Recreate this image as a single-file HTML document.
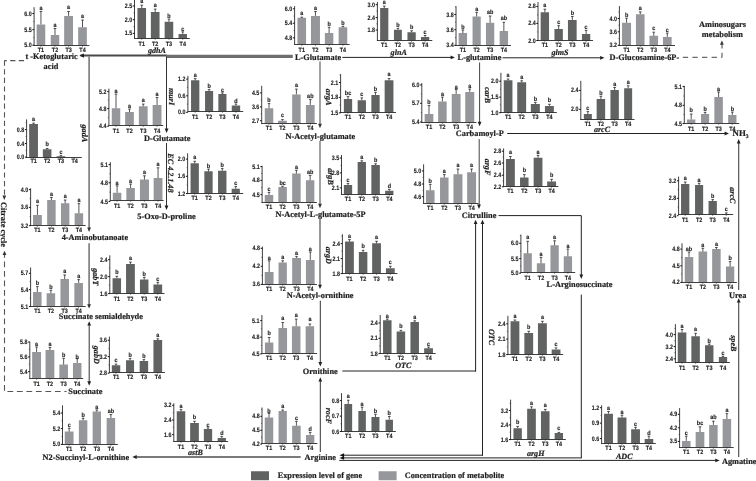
<!DOCTYPE html>
<html><head><meta charset="utf-8"><title>Metabolic pathway</title>
<style>html,body{margin:0;padding:0;background:#fff;}body{width:756px;height:481px;overflow:hidden;}svg{display:block;will-change:transform;filter:blur(0.35px);} text{text-rendering:geometricPrecision;}text{fill:#1e1e1e;}.k,.t,.l{font-family:"Liberation Sans",sans-serif;font-weight:bold;stroke:#1e1e1e;stroke-width:0.15px;}.k{font-size:6.5px;}.t{font-size:6.3px;}.l{font-size:6.2px;}.m{font-family:"Liberation Serif",serif;font-weight:bold;font-size:8.3px;stroke:#1e1e1e;stroke-width:0.2px;}.g{font-family:"Liberation Serif",serif;font-weight:bold;font-style:italic;font-size:8.1px;stroke:#1e1e1e;stroke-width:0.2px;}</style>
</head><body>
<svg width="756" height="481" viewBox="0 0 756 481">
<rect width="756" height="481" fill="#fff"/>
<path fill="#95979a" d="M36.65,24.4h8.6v21.1h-8.6ZM50.75,35h8.5v10.5h-8.5ZM64.15,15.9h8.85v29.6h-8.85ZM78.15,27.25h8.7v18.25h-8.7ZM297.45,17.8h8.6v26.7h-8.6ZM310.95,15.9h9v28.6h-9ZM324.85,33.1h8.5v11.4h-8.5ZM338.65,27.3h8.6v17.2h-8.6ZM458.65,33.1h8.4v12.4h-8.4ZM472.55,16.5h8.2v29h-8.2ZM485.95,22.7h8.3v22.8h-8.3ZM499.65,31.1h8.4v14.4h-8.4ZM622.05,22.7h9v22.8h-9ZM635.95,14.2h8.6v31.3h-8.6ZM649.45,35.8h8.6v9.7h-8.6ZM662.95,36.9h8.7v8.6h-8.7ZM111.75,108.3h8.5v17.2h-8.5ZM125.15,112.1h8.7v13.4h-8.7ZM138.85,106.3h8.8v19.2h-8.8ZM152.65,105h8.8v20.5h-8.8ZM264.75,108.3h8.5v15.2h-8.5ZM278.05,120.7h8.8v2.8h-8.8ZM292.15,94.4h8.5v29.1h-8.5ZM305.95,104.9h8.7v18.6h-8.7ZM424.65,114h8.7v8.5h-8.7ZM438.15,101.4h8.5v21.1h-8.5ZM451.75,94h8.8v28.5h-8.8ZM465.25,91.9h9v30.6h-9ZM687.05,119.4h8.3v4.1h-8.3ZM701.05,114.1h8.1v9.4h-8.1ZM714.35,97h8.5v26.5h-8.5ZM728.15,114.9h8.3v8.6h-8.3ZM112.85,192.7h8.5v7.8h-8.5ZM126.35,188h8.5v12.5h-8.5ZM139.95,179.6h9v20.9h-9ZM153.65,178.1h8.8v22.4h-8.8ZM264.75,194.9h8.5v7.6h-8.5ZM278.35,187.1h8.5v15.4h-8.5ZM292.15,173.6h8.5v28.9h-8.5ZM305.95,180.3h8.4v22.2h-8.4ZM425.95,190.2h8.6v13.3h-8.6ZM440.05,177.5h8.5v26h-8.5ZM453.45,174.3h9v29.2h-9ZM467.15,172.2h8.9v31.3h-8.9ZM33.05,214.9h8.8v10.6h-8.8ZM47.15,200h8.5v25.5h-8.5ZM60.95,203.3h8.4v22.2h-8.4ZM74.65,213.3h8.5v12.2h-8.5ZM33.05,291.9h8.5v14.6h-8.5ZM46.65,293.3h8.5v13.2h-8.5ZM60.45,279.1h8.5v27.4h-8.5ZM74.35,282.9h8.6v23.6h-8.6ZM264.75,272.1h8.8v12.4h-8.8ZM278.55,262.4h8.3v22.1h-8.3ZM292.15,257.9h8.8v26.6h-8.8ZM305.95,259.9h8.7v24.6h-8.7ZM523.55,253.3h8.3v19.2h-8.3ZM536.85,263.3h8.3v9.2h-8.3ZM550.45,245.3h8.3v27.2h-8.3ZM563.75,256.3h8.3v16.2h-8.3ZM684.75,256.9h8.5v25.6h-8.5ZM698.55,251.6h8.6v30.9h-8.6ZM712.15,249.1h8.5v33.4h-8.5ZM725.95,266.6h8.3v15.9h-8.3ZM264.95,342.5h8.4v11h-8.4ZM278.45,328.1h8.6v25.4h-8.6ZM291.95,326.2h8.5v27.3h-8.5ZM305.65,326.2h8.5v27.3h-8.5ZM32.15,352h8.9v26.5h-8.9ZM45.55,350h8.8v28.5h-8.8ZM59.35,364.6h8.6v13.9h-8.6ZM72.95,362.9h8.5v15.6h-8.5ZM64.75,431.6h8.8v12.9h-8.8ZM78.85,420.3h8.5v24.2h-8.5ZM92.65,411.6h8.3v32.9h-8.3ZM106.65,418h8.5v26.5h-8.5ZM264.75,417.5h8.5v26h-8.5ZM278.55,411.1h8.3v32.4h-8.3ZM292.15,425.8h8.5v17.7h-8.5ZM305.95,434.9h8.4v8.6h-8.4ZM681.95,440.9h8.6v6.6h-8.6ZM695.65,432.1h8.7v15.4h-8.7ZM709.15,424.9h8.5v22.6h-8.5ZM722.65,419h8.5v28.5h-8.5ZM378.6,471.3h18v8.9h-18Z"/>
<path fill="#616363" d="M137.45,8.1h8.6v30.4h-8.6ZM150.85,12.1h8.7v26.4h-8.7ZM164.65,21.8h8.6v16.7h-8.6ZM178.55,33.9h8.4v4.6h-8.4ZM380.15,8.1h8.2v32.4h-8.2ZM393.95,29.7h7.9v10.8h-7.9ZM407.45,32.2h8.3v8.3h-8.3ZM420.95,36.9h8.3v3.6h-8.3ZM540.65,12.2h8.4v28.3h-8.4ZM554.45,29h8.4v11.5h-8.4ZM567.95,20h8.7v20.5h-8.7ZM581.95,34h8.3v6.5h-8.3ZM29.15,124h8.8v33.5h-8.8ZM42.85,149.3h8.6v8.2h-8.6ZM56.55,156.2h8.7v1.3h-8.7ZM191.05,80.3h8.3v31.2h-8.3ZM205.05,91.1h8.1v20.4h-8.1ZM218.35,94.1h8.1v17.4h-8.1ZM231.75,105.4h8.4v6.1h-8.4ZM343.85,99.1h8.3v13.4h-8.3ZM357.65,100.3h8.3v12.2h-8.3ZM371.35,94.9h8.3v17.6h-8.3ZM384.65,80.3h8.8v32.2h-8.8ZM503.75,80.3h8.7v32.2h-8.7ZM517.25,82.2h8.9v30.3h-8.9ZM530.85,104.1h9v8.4h-9ZM544.95,105.9h8.9v6.6h-8.9ZM583.85,114.1h8v5.4h-8ZM596.65,99.1h8.5v20.4h-8.5ZM610.45,90h8.4v29.5h-8.4ZM624.15,88.3h8v31.2h-8ZM190.55,163.3h8.3v30.2h-8.3ZM204.35,171.3h8.3v22.2h-8.3ZM218.05,170.8h8.4v22.7h-8.4ZM231.65,188.8h8.2v4.7h-8.2ZM343.85,184.9h8.3v9.6h-8.3ZM357.65,162h8.3v32.5h-8.3ZM371.35,165h8.5v29.5h-8.5ZM385.15,190.7h8.3v3.8h-8.3ZM505.95,159.1h8.9v27.4h-8.9ZM520.05,177.5h8.5v9h-8.5ZM533.65,157.8h8.8v28.7h-8.8ZM547.15,181.6h8.9v4.9h-8.9ZM681.05,184.1h8.3v30.4h-8.3ZM695.05,185h8.1v29.5h-8.1ZM708.55,201.1h8.3v13.4h-8.3ZM722.15,214.1h8.3v0.4h-8.3ZM112.55,278.3h8.5v15.2h-8.5ZM126.05,264.1h8.8v29.4h-8.8ZM139.95,279.6h8.5v13.9h-8.5ZM153.45,284.4h8.7v9.1h-8.7ZM345.05,241.6h8.8v31.9h-8.8ZM358.85,252.1h8.5v21.4h-8.5ZM372.15,243.3h8.8v30.2h-8.8ZM385.95,268.3h8.8v5.2h-8.8ZM383.05,320.3h8.5v33.2h-8.5ZM396.65,331.6h8.5v21.9h-8.5ZM410.45,322h8.5v31.5h-8.5ZM424.15,348.3h8.8v5.2h-8.8ZM510.55,321.3h8.8v33.2h-8.8ZM524.35,332.9h8.8v21.6h-8.8ZM537.95,323.3h8.9v31.2h-8.9ZM551.65,349.4h8.8v5.1h-8.8ZM677.75,332.5h8.6v30h-8.6ZM691.35,336.3h8.5v26.2h-8.5ZM705.05,345.3h8.4v17.2h-8.4ZM718.85,357.1h8.3v5.4h-8.3ZM111.85,365.3h8.4v7.2h-8.4ZM126.05,360.3h8v12.2h-8ZM139.65,361.1h8.5v11.4h-8.5ZM153.45,340h8.7v32.5h-8.7ZM176.75,411.3h8.5v30.2h-8.5ZM190.15,422.9h8.7v18.6h-8.7ZM203.85,429.1h8.3v12.4h-8.3ZM217.65,437.9h8.3v3.6h-8.3ZM344.35,404h7.8v27.5h-7.8ZM358.35,410.9h7.5v20.6h-7.5ZM371.45,417.1h8v14.4h-8ZM385.55,419.7h7.4v11.8h-7.4ZM513.45,428.3h8.4v11.2h-8.4ZM527.15,408.7h8.7v30.8h-8.7ZM540.95,411.3h8.6v28.2h-8.6ZM554.65,433h8.4v6.5h-8.4ZM604.05,413.7h8.9v29.8h-8.9ZM617.55,417.5h8.9v26h-8.9ZM631.15,429.3h8.8v14.2h-8.8ZM644.65,439h8.6v4.5h-8.6ZM251,471.3h18v8.9h-18Z"/>
<path fill="none" stroke="#2a2a2a" stroke-width="0.8" d="M40.95,24.4L40.95,11.5M39.65,11.5L42.25,11.5M55,35L55,28.5M53.7,28.5L56.3,28.5M68.58,15.9L68.58,11.5M67.28,11.5L69.88,11.5M82.5,27.25L82.5,20M81.2,20L83.8,20M141.75,8.1L141.75,5.2M140.45,5.2L143.05,5.2M155.2,12.1L155.2,9.1M153.9,9.1L156.5,9.1M168.95,21.8L168.95,19.1M167.65,19.1L170.25,19.1M182.75,33.9L182.75,31.9M181.45,31.9L184.05,31.9M301.75,17.8L301.75,17.2M300.45,17.2L303.05,17.2M315.45,15.9L315.45,11.5M314.15,11.5L316.75,11.5M329.1,33.1L329.1,27.4M327.8,27.4L330.4,27.4M342.95,27.3L342.95,26.4M341.65,26.4L344.25,26.4M384.25,8.1L384.25,6.1M382.95,6.1L385.55,6.1M397.9,29.7L397.9,28.4M396.6,28.4L399.2,28.4M411.6,32.2L411.6,30.8M410.3,30.8L412.9,30.8M425.1,36.9L425.1,35.5M423.8,35.5L426.4,35.5M462.85,33.1L462.85,30M461.55,30L464.15,30M476.65,16.5L476.65,12.4M475.35,12.4L477.95,12.4M490.1,22.7L490.1,16M488.8,16L491.4,16M503.85,31.1L503.85,22.3M502.55,22.3L505.15,22.3M544.85,12.2L544.85,9.2M543.55,9.2L546.15,9.2M558.65,29L558.65,25.7M557.35,25.7L559.95,25.7M572.3,20L572.3,16.5M571,16.5L573.6,16.5M586.1,34L586.1,30.4M584.8,30.4L587.4,30.4M626.55,22.7L626.55,18.2M625.25,18.2L627.85,18.2M640.25,14.2L640.25,11.9M638.95,11.9L641.55,11.9M653.75,35.8L653.75,32.2M652.45,32.2L655.05,32.2M667.3,36.9L667.3,33.1M666,33.1L668.6,33.1M33.55,124L33.55,123.1M32.25,123.1L34.85,123.1M47.15,149.3L47.15,148.5M45.85,148.5L48.45,148.5M60.9,156.2L60.9,155.6M59.6,155.6L62.2,155.6M116,108.3L116,94.1M114.7,94.1L117.3,94.1M129.5,112.1L129.5,109.1M128.2,109.1L130.8,109.1M143.25,106.3L143.25,104.1M141.95,104.1L144.55,104.1M157.05,105L157.05,97.5M155.75,97.5L158.35,97.5M195.2,80.3L195.2,78.6M193.9,78.6L196.5,78.6M209.1,91.1L209.1,89.6M207.8,89.6L210.4,89.6M222.4,94.1L222.4,92.9M221.1,92.9L223.7,92.9M235.95,105.4L235.95,104.1M234.65,104.1L237.25,104.1M269,108.3L269,103.6M267.7,103.6L270.3,103.6M282.45,120.7L282.45,119.6M281.15,119.6L283.75,119.6M296.4,94.4L296.4,89.1M295.1,89.1L297.7,89.1M310.3,104.9L310.3,99.4M309,99.4L311.6,99.4M348,99.1L348,96.6M346.7,96.6L349.3,96.6M361.8,100.3L361.8,97.9M360.5,97.9L363.1,97.9M375.5,94.9L375.5,92.4M374.2,92.4L376.8,92.4M389.05,80.3L389.05,78.6M387.75,78.6L390.35,78.6M429,114L429,105.6M427.7,105.6L430.3,105.6M442.4,101.4L442.4,97.1M441.1,97.1L443.7,97.1M456.15,94L456.15,89.6M454.85,89.6L457.45,89.6M469.75,91.9L469.75,89.1M468.45,89.1L471.05,89.1M508.1,80.3L508.1,79M506.8,79L509.4,79M521.7,82.2L521.7,80.8M520.4,80.8L523,80.8M535.35,104.1L535.35,102.4M534.05,102.4L536.65,102.4M549.4,105.9L549.4,104.3M548.1,104.3L550.7,104.3M587.85,114.1L587.85,111.6M586.55,111.6L589.15,111.6M600.9,99.1L600.9,96.3M599.6,96.3L602.2,96.3M614.65,90L614.65,87.5M613.35,87.5L615.95,87.5M628.15,88.3L628.15,85.8M626.85,85.8L629.45,85.8M691.2,119.4L691.2,114.1M689.9,114.1L692.5,114.1M705.1,114.1L705.1,112.4M703.8,112.4L706.4,112.4M718.6,97L718.6,92M717.3,92L719.9,92M732.3,114.9L732.3,112.1M731,112.1L733.6,112.1M194.7,163.3L194.7,161.3M193.4,161.3L196,161.3M208.5,171.3L208.5,169.1M207.2,169.1L209.8,169.1M222.25,170.8L222.25,168.6M220.95,168.6L223.55,168.6M235.75,188.8L235.75,186.6M234.45,186.6L237.05,186.6M117.1,192.7L117.1,185.9M115.8,185.9L118.4,185.9M130.6,188L130.6,184.1M129.3,184.1L131.9,184.1M144.45,179.6L144.45,175.8M143.15,175.8L145.75,175.8M158.05,178.1L158.05,167.8M156.75,167.8L159.35,167.8M269,194.9L269,192.4M267.7,192.4L270.3,192.4M282.6,187.1L282.6,186.3M281.3,186.3L283.9,186.3M296.4,173.6L296.4,170.3M295.1,170.3L297.7,170.3M310.15,180.3L310.15,175.4M308.85,175.4L311.45,175.4M348,184.9L348,183.6M346.7,183.6L349.3,183.6M361.8,162L361.8,160.8M360.5,160.8L363.1,160.8M375.6,165L375.6,163.8M374.3,163.8L376.9,163.8M389.3,190.7L389.3,189.4M388,189.4L390.6,189.4M430.25,190.2L430.25,184.4M428.95,184.4L431.55,184.4M444.3,177.5L444.3,174.6M443,174.6L445.6,174.6M457.95,174.3L457.95,169M456.65,169L459.25,169M471.6,172.2L471.6,169M470.3,169L472.9,169M510.4,159.1L510.4,156.5M509.1,156.5L511.7,156.5M524.3,177.5L524.3,174.6M523,174.6L525.6,174.6M538.05,157.8L538.05,155.4M536.75,155.4L539.35,155.4M551.6,181.6L551.6,179.3M550.3,179.3L552.9,179.3M685.2,184.1L685.2,182M683.9,182L686.5,182M699.1,185L699.1,183.3M697.8,183.3L700.4,183.3M712.7,201.1L712.7,199.6M711.4,199.6L714,199.6M726.3,214.1L726.3,212.9M725,212.9L727.6,212.9M37.45,214.9L37.45,205.3M36.15,205.3L38.75,205.3M51.4,200L51.4,197.5M50.1,197.5L52.7,197.5M65.15,203.3L65.15,200M63.85,200L66.45,200M78.9,213.3L78.9,203.6M77.6,203.6L80.2,203.6M116.8,278.3L116.8,276.3M115.5,276.3L118.1,276.3M130.45,264.1L130.45,262.1M129.15,262.1L131.75,262.1M144.2,279.6L144.2,277.4M142.9,277.4L145.5,277.4M157.8,284.4L157.8,282.4M156.5,282.4L159.1,282.4M37.3,291.9L37.3,286.6M36,286.6L38.6,286.6M50.9,293.3L50.9,290.3M49.6,290.3L52.2,290.3M64.7,279.1L64.7,275M63.4,275L66,275M78.65,282.9L78.65,279.6M77.35,279.6L79.95,279.6M269.15,272.1L269.15,260.8M267.85,260.8L270.45,260.8M282.7,262.4L282.7,260.8M281.4,260.8L284,260.8M296.55,257.9L296.55,256.6M295.25,256.6L297.85,256.6M310.3,259.9L310.3,252M309,252L311.6,252M349.45,241.6L349.45,239.6M348.15,239.6L350.75,239.6M363.1,252.1L363.1,250.3M361.8,250.3L364.4,250.3M376.55,243.3L376.55,241.3M375.25,241.3L377.85,241.3M390.35,268.3L390.35,266.3M389.05,266.3L391.65,266.3M527.7,253.3L527.7,241.3M526.4,241.3L529,241.3M541,263.3L541,257.4M539.7,257.4L542.3,257.4M554.6,245.3L554.6,240.8M553.3,240.8L555.9,240.8M567.9,256.3L567.9,249.1M566.6,249.1L569.2,249.1M689,256.9L689,252M687.7,252L690.3,252M702.85,251.6L702.85,248.3M701.55,248.3L704.15,248.3M716.4,249.1L716.4,247.5M715.1,247.5L717.7,247.5M730.1,266.6L730.1,261.6M728.8,261.6L731.4,261.6M387.3,320.3L387.3,319.1M386,319.1L388.6,319.1M400.9,331.6L400.9,330.4M399.6,330.4L402.2,330.4M414.7,322L414.7,320.8M413.4,320.8L416,320.8M428.55,348.3L428.55,347.1M427.25,347.1L429.85,347.1M269.15,342.5L269.15,337.5M267.85,337.5L270.45,337.5M282.75,328.1L282.75,322.5M281.45,322.5L284.05,322.5M296.2,326.2L296.2,319.1M294.9,319.1L297.5,319.1M309.9,326.2L309.9,324M308.6,324L311.2,324M514.95,321.3L514.95,320M513.65,320L516.25,320M528.75,332.9L528.75,331.3M527.45,331.3L530.05,331.3M542.4,323.3L542.4,321.3M541.1,321.3L543.7,321.3M556.05,349.4L556.05,347.9M554.75,347.9L557.35,347.9M682.05,332.5L682.05,329.5M680.75,329.5L683.35,329.5M695.6,336.3L695.6,333.3M694.3,333.3L696.9,333.3M709.25,345.3L709.25,344.1M707.95,344.1L710.55,344.1M723,357.1L723,356.3M721.7,356.3L724.3,356.3M36.6,352L36.6,347M35.3,347L37.9,347M49.95,350L49.95,347.5M48.65,347.5L51.25,347.5M63.65,364.6L63.65,358.3M62.35,358.3L64.95,358.3M77.2,362.9L77.2,358.6M75.9,358.6L78.5,358.6M116.05,365.3L116.05,364.1M114.75,364.1L117.35,364.1M130.05,360.3L130.05,358.6M128.75,358.6L131.35,358.6M143.9,361.1L143.9,359.6M142.6,359.6L145.2,359.6M157.8,340L157.8,338.8M156.5,338.8L159.1,338.8M69.15,431.6L69.15,428.3M67.85,428.3L70.45,428.3M83.1,420.3L83.1,418.3M81.8,418.3L84.4,418.3M96.8,411.6L96.8,410M95.5,410L98.1,410M110.9,418L110.9,414.6M109.6,414.6L112.2,414.6M181,411.3L181,409.6M179.7,409.6L182.3,409.6M194.5,422.9L194.5,421.3M193.2,421.3L195.8,421.3M208,429.1L208,427.9M206.7,427.9L209.3,427.9M221.8,437.9L221.8,436.6M220.5,436.6L223.1,436.6M269,417.5L269,413.3M267.7,413.3L270.3,413.3M282.7,411.1L282.7,410M281.4,410L284,410M296.4,425.8L296.4,421.3M295.1,421.3L297.7,421.3M310.15,434.9L310.15,432.4M308.85,432.4L311.45,432.4M348.25,404L348.25,400.2M346.95,400.2L349.55,400.2M362.1,410.9L362.1,407.2M360.8,407.2L363.4,407.2M375.45,417.1L375.45,414.3M374.15,414.3L376.75,414.3M389.25,419.7L389.25,416.5M387.95,416.5L390.55,416.5M517.65,428.3L517.65,426.4M516.35,426.4L518.95,426.4M531.5,408.7L531.5,406.8M530.2,406.8L532.8,406.8M545.25,411.3L545.25,409.4M543.95,409.4L546.55,409.4M558.85,433L558.85,432.4M557.55,432.4L560.15,432.4M608.5,413.7L608.5,411.5M607.2,411.5L609.8,411.5M622,417.5L622,415.2M620.7,415.2L623.3,415.2M635.55,429.3L635.55,427.4M634.25,427.4L636.85,427.4M648.95,439L648.95,436.2M647.65,436.2L650.25,436.2M686.25,440.9L686.25,436.2M684.95,436.2L687.55,436.2M700,432.1L700,426.8M698.7,426.8L701.3,426.8M713.4,424.9L713.4,421.2M712.1,421.2L714.7,421.2M726.9,419L726.9,413.7M725.6,413.7L728.2,413.7"/>
<path fill="none" stroke="#2a2a2a" stroke-width="0.9" d="M34.1,7.2L34.1,45.95M33.65,45.5L89.4,45.5M134.5,0L134.5,38.95M134.05,38.5L189.8,38.5M294.6,6.1L294.6,44.95M294.15,44.5L349.7,44.5M377.4,2L377.4,40.95M376.95,40.5L432.3,40.5M456,6.1L456,45.95M455.55,45.5L511,45.5M538,2L538,40.95M537.55,40.5L593,40.5M619.4,6.1L619.4,45.95M618.95,45.5L675,45.5M26.6,119.4L26.6,157.95M26.15,157.5L81.8,157.5M108.9,88.6L108.9,125.95M108.45,125.5L163.2,125.5M187.9,75.8L187.9,111.95M187.45,111.5L243.2,111.5M261.7,85.8L261.7,123.95M261.25,123.5L316.9,123.5M340.6,74.1L340.6,112.95M340.15,112.5L396,112.5M421.8,83.1L421.8,122.95M421.35,122.5L476.4,122.5M500.9,72.8L500.9,112.95M500.45,112.5L556.8,112.5M580.8,80.8L580.8,119.95M580.35,119.5L634.5,119.5M684.3,85.8L684.3,123.95M683.85,123.5L739.2,123.5M187.6,153.3L187.6,193.95M187.15,193.5L243.2,193.5M110.3,162.1L110.3,200.95M109.85,200.5L163.6,200.5M262.1,165.8L262.1,202.95M261.65,202.5L316.9,202.5M341.5,155L341.5,194.95M341.05,194.5L393.2,194.5M423.6,164.3L423.6,203.95M423.15,203.5L478.6,203.5M503.6,148.4L503.6,186.95M503.15,186.5L558.3,186.5M678.6,176.6L678.6,214.95M678.15,214.5L733.2,214.5M30.6,188.3L30.6,225.95M30.15,225.5L85.7,225.5M109.8,255.3L109.8,293.95M109.35,293.5L164.5,293.5M30.6,267.5L30.6,306.95M30.15,306.5L85.7,306.5M262.4,246.6L262.4,284.95M261.95,284.5L316.9,284.5M342.4,234.2L342.4,273.95M341.95,273.5L397.4,273.5M520.9,234.6L520.9,272.95M520.45,272.5L575.2,272.5M682,243.3L682,282.95M681.55,282.5L736.9,282.5M380.2,315L380.2,353.95M379.75,353.5L435.7,353.5M261.9,315L261.9,353.95M261.45,353.5L317.1,353.5M507.9,315.8L507.9,354.95M507.45,354.5L563.2,354.5M675.4,324.1L675.4,362.95M674.95,362.5L729.9,362.5M29.8,341.6L29.8,378.95M29.35,378.5L83.2,378.5M109.4,336.6L109.4,372.95M108.95,372.5L164.9,372.5M62.5,405.3L62.5,444.95M62.05,444.5L117.9,444.5M173.8,403.3L173.8,441.95M173.35,441.5L228.2,441.5M262,407.5L262,443.95M261.55,443.5L317.4,443.5M341.5,393.1L341.5,431.95M341.05,431.5L395.9,431.5M510.6,399.7L510.6,439.95M510.15,439.5L565.8,439.5M601.6,405.3L601.6,443.95M601.15,443.5L655.8,443.5M679.6,408.1L679.6,447.95M679.15,447.5L733.7,447.5"/>
<path fill="none" stroke="#2a2a2a" stroke-width="0.6" d="M33.1,21.55L34.1,21.55M33.1,37.4L34.1,37.4M133.5,12.85L134.5,12.85M133.5,26.55L134.5,26.55M293.6,16L294.6,16M293.6,30.5L294.6,30.5M376.4,11.15L377.4,11.15M376.4,23.8L377.4,23.8M455,22.1L456,22.1M455,37.5L456,37.5M455,6.9L456,6.9M537,14.9L538,14.9M537,31.95L538,31.95M618.4,25.15L619.4,25.15M618.4,38.55L619.4,38.55M618.4,11.85L619.4,11.85M25.6,136.55L26.6,136.55M25.6,150.35L26.6,150.35M25.6,122.65L26.6,122.65M107.9,100.1L108.9,100.1M107.9,117.4L108.9,117.4M186.9,87.45L187.9,87.45M186.9,104.1L187.9,104.1M260.7,99.9L261.7,99.9M260.7,113.8L261.7,113.8M339.6,89.95L340.6,89.95M339.6,105.15L340.6,105.15M339.6,75.05L340.6,75.05M420.8,94.15L421.8,94.15M420.8,112.65L421.8,112.65M499.9,89.15L500.9,89.15M499.9,104.9L500.9,104.9M579.8,99.9L580.8,99.9M683.3,95.95L684.3,95.95M683.3,114.45L684.3,114.45M186.6,167.7L187.6,167.7M186.6,184.95L187.6,184.95M109.3,173.7L110.3,173.7M109.3,192.15L110.3,192.15M261.1,173.5L262.1,173.5M261.1,187.5L262.1,187.5M340.5,165.45L341.5,165.45M340.5,180.4L341.5,180.4M422.6,177.45L423.6,177.45M422.6,190.35L423.6,190.35M502.6,157.1L503.6,157.1M502.6,169.1L503.6,169.1M502.6,181L503.6,181M677.6,189.55L678.6,189.55M677.6,207L678.6,207M29.6,198.5L30.6,198.5M29.6,216.55L30.6,216.55M108.8,268.1L109.8,268.1M108.8,285.1L109.8,285.1M29.6,281.45L30.6,281.45M29.6,298.1L30.6,298.1M261.4,257.3L262.4,257.3M261.4,275.35L262.4,275.35M341.4,251.1L342.4,251.1M341.4,266.1L342.4,266.1M341.4,236.1L342.4,236.1M519.9,250.95L520.9,250.95M519.9,265.9L520.9,265.9M519.9,235.65L520.9,235.65M681,257.45L682,257.45M681,274.1L682,274.1M379.2,330.65L380.2,330.65M379.2,345.95L380.2,345.95M260.9,328.85L261.9,328.85M260.9,345.5L261.9,345.5M506.9,331.45L507.9,331.45M506.9,346.85L507.9,346.85M674.4,340.6L675.4,340.6M674.4,352.7L675.4,352.7M674.4,328.6L675.4,328.6M28.8,349.45L29.8,349.45M28.8,364.25L29.8,364.25M108.4,348.45L109.4,348.45M108.4,364.9L109.4,364.9M61.5,420.8L62.5,420.8M61.5,436.5L62.5,436.5M172.8,412.65L173.8,412.65M172.8,427.3L173.8,427.3M261,423.3L262,423.3M261,437.2L262,437.2M261,409.3L262,409.3M340.5,408.35L341.5,408.35M340.5,423.8L341.5,423.8M509.6,417.7L510.6,417.7M509.6,432.25L510.6,432.25M509.6,403.3L510.6,403.3M600.6,415.4L601.6,415.4M600.6,430.85L601.6,430.85M678.6,421.05L679.6,421.05M678.6,434.6L679.6,434.6"/>
<path fill="none" stroke="#111" stroke-width="1.0" d="M32.4,13.5L34.1,13.5M32.4,29.6L34.1,29.6M32.4,45.2L34.1,45.2M132.8,6L134.5,6M132.8,19.7L134.5,19.7M132.8,33.4L134.5,33.4M292.9,8.8L294.6,8.8M292.9,23.2L294.6,23.2M292.9,37.8L294.6,37.8M375.7,4.7L377.4,4.7M375.7,17.6L377.4,17.6M375.7,30L377.4,30M454.3,14.5L456,14.5M454.3,29.7L456,29.7M454.3,45.3L456,45.3M536.3,6.4L538,6.4M536.3,23.4L538,23.4M536.3,40.5L538,40.5M617.7,18.5L619.4,18.5M617.7,31.8L619.4,31.8M617.7,45.3L619.4,45.3M24.9,129.6L26.6,129.6M24.9,143.5L26.6,143.5M24.9,157.2L26.6,157.2M107.2,91.6L108.9,91.6M107.2,108.6L108.9,108.6M107.2,126.2L108.9,126.2M186.2,79.1L187.9,79.1M186.2,95.8L187.9,95.8M186.2,112.4L187.9,112.4M260,92.9L261.7,92.9M260,106.9L261.7,106.9M260,120.7L261.7,120.7M338.9,82.5L340.6,82.5M338.9,97.4L340.6,97.4M338.9,112.9L340.6,112.9M420.1,85L421.8,85M420.1,103.3L421.8,103.3M420.1,122L421.8,122M499.2,81.2L500.9,81.2M499.2,97.1L500.9,97.1M499.2,112.7L500.9,112.7M579.1,90.4L580.8,90.4M579.1,109.4L580.8,109.4M682.6,86.6L684.3,86.6M682.6,105.3L684.3,105.3M682.6,123.6L684.3,123.6M185.9,159.1L187.6,159.1M185.9,176.3L187.6,176.3M185.9,193.6L187.6,193.6M108.6,164.6L110.3,164.6M108.6,182.8L110.3,182.8M108.6,201.5L110.3,201.5M260.4,166.6L262.1,166.6M260.4,180.4L262.1,180.4M260.4,194.6L262.1,194.6M339.8,158L341.5,158M339.8,172.9L341.5,172.9M339.8,187.9L341.5,187.9M421.9,170.9L423.6,170.9M421.9,184L423.6,184M421.9,196.7L423.6,196.7M501.9,151.2L503.6,151.2M501.9,163L503.6,163M501.9,175.2L503.6,175.2M501.9,186.8L503.6,186.8M676.9,180.8L678.6,180.8M676.9,198.3L678.6,198.3M676.9,215.7L678.6,215.7M28.9,189.6L30.6,189.6M28.9,207.4L30.6,207.4M28.9,225.7L30.6,225.7M108.1,259.6L109.8,259.6M108.1,276.6L109.8,276.6M108.1,293.6L109.8,293.6M28.9,273.3L30.6,273.3M28.9,289.6L30.6,289.6M28.9,306.6L30.6,306.6M260.7,248.3L262.4,248.3M260.7,266.3L262.4,266.3M260.7,284.4L262.4,284.4M340.7,243.6L342.4,243.6M340.7,258.6L342.4,258.6M340.7,273.6L342.4,273.6M519.2,243.3L520.9,243.3M519.2,258.6L520.9,258.6M519.2,273.2L520.9,273.2M680.3,249.1L682,249.1M680.3,265.8L682,265.8M680.3,282.4L682,282.4M378.5,323L380.2,323M378.5,338.3L380.2,338.3M378.5,353.6L380.2,353.6M260.2,320.6L261.9,320.6M260.2,337.1L261.9,337.1M260.2,353.9L261.9,353.9M506.2,323.8L507.9,323.8M506.2,339.1L507.9,339.1M506.2,354.6L507.9,354.6M673.7,334.6L675.4,334.6M673.7,346.6L675.4,346.6M673.7,358.8L675.4,358.8M28.1,342L29.8,342M28.1,356.9L29.8,356.9M28.1,371.6L29.8,371.6M107.7,340.3L109.4,340.3M107.7,356.6L109.4,356.6M107.7,373.2L109.4,373.2M60.8,413L62.5,413M60.8,428.6L62.5,428.6M60.8,444.4L62.5,444.4M172.1,405.3L173.8,405.3M172.1,420L173.8,420M172.1,434.6L173.8,434.6M260.3,416.3L262,416.3M260.3,430.3L262,430.3M260.3,444.1L262,444.1M339.8,400.6L341.5,400.6M339.8,416.1L341.5,416.1M339.8,431.5L341.5,431.5M508.9,410.5L510.6,410.5M508.9,424.9L510.6,424.9M508.9,439.6L510.6,439.6M599.9,407.7L601.6,407.7M599.9,423.1L601.6,423.1M599.9,438.6L601.6,438.6M677.9,414.3L679.6,414.3M677.9,427.8L679.6,427.8M677.9,441.4L679.6,441.4"/>
<path fill="none" stroke="#2a2a2a" stroke-width="0.7" d="M40.95,45.5L40.95,46.7M55,45.5L55,46.7M68.58,45.5L68.58,46.7M82.5,45.5L82.5,46.7M141.75,38.5L141.75,39.7M155.2,38.5L155.2,39.7M168.95,38.5L168.95,39.7M182.75,38.5L182.75,39.7M301.75,44.5L301.75,45.7M315.45,44.5L315.45,45.7M329.1,44.5L329.1,45.7M342.95,44.5L342.95,45.7M384.25,40.5L384.25,41.7M397.9,40.5L397.9,41.7M411.6,40.5L411.6,41.7M425.1,40.5L425.1,41.7M462.85,45.5L462.85,46.7M476.65,45.5L476.65,46.7M490.1,45.5L490.1,46.7M503.85,45.5L503.85,46.7M544.85,40.5L544.85,41.7M558.65,40.5L558.65,41.7M572.3,40.5L572.3,41.7M586.1,40.5L586.1,41.7M626.55,45.5L626.55,46.7M640.25,45.5L640.25,46.7M653.75,45.5L653.75,46.7M667.3,45.5L667.3,46.7M33.55,157.5L33.55,158.7M47.15,157.5L47.15,158.7M60.9,157.5L60.9,158.7M74.65,157.5L74.65,158.7M116,125.5L116,126.7M129.5,125.5L129.5,126.7M143.25,125.5L143.25,126.7M157.05,125.5L157.05,126.7M195.2,111.5L195.2,112.7M209.1,111.5L209.1,112.7M222.4,111.5L222.4,112.7M235.95,111.5L235.95,112.7M269,123.5L269,124.7M282.45,123.5L282.45,124.7M296.4,123.5L296.4,124.7M310.3,123.5L310.3,124.7M348,112.5L348,113.7M361.8,112.5L361.8,113.7M375.5,112.5L375.5,113.7M389.05,112.5L389.05,113.7M429,122.5L429,123.7M442.4,122.5L442.4,123.7M456.15,122.5L456.15,123.7M469.75,122.5L469.75,123.7M508.1,112.5L508.1,113.7M521.7,112.5L521.7,113.7M535.35,112.5L535.35,113.7M549.4,112.5L549.4,113.7M587.85,119.5L587.85,120.7M600.9,119.5L600.9,120.7M614.65,119.5L614.65,120.7M628.15,119.5L628.15,120.7M691.2,123.5L691.2,124.7M705.1,123.5L705.1,124.7M718.6,123.5L718.6,124.7M732.3,123.5L732.3,124.7M194.7,193.5L194.7,194.7M208.5,193.5L208.5,194.7M222.25,193.5L222.25,194.7M235.75,193.5L235.75,194.7M117.1,200.5L117.1,201.7M130.6,200.5L130.6,201.7M144.45,200.5L144.45,201.7M158.05,200.5L158.05,201.7M269,202.5L269,203.7M282.6,202.5L282.6,203.7M296.4,202.5L296.4,203.7M310.15,202.5L310.15,203.7M348,194.5L348,195.7M361.8,194.5L361.8,195.7M375.6,194.5L375.6,195.7M389.3,194.5L389.3,195.7M430.25,203.5L430.25,204.7M444.3,203.5L444.3,204.7M457.95,203.5L457.95,204.7M471.6,203.5L471.6,204.7M510.4,186.5L510.4,187.7M524.3,186.5L524.3,187.7M538.05,186.5L538.05,187.7M551.6,186.5L551.6,187.7M685.2,214.5L685.2,215.7M699.1,214.5L699.1,215.7M712.7,214.5L712.7,215.7M726.3,214.5L726.3,215.7M37.45,225.5L37.45,226.7M51.4,225.5L51.4,226.7M65.15,225.5L65.15,226.7M78.9,225.5L78.9,226.7M116.8,293.5L116.8,294.7M130.45,293.5L130.45,294.7M144.2,293.5L144.2,294.7M157.8,293.5L157.8,294.7M37.3,306.5L37.3,307.7M50.9,306.5L50.9,307.7M64.7,306.5L64.7,307.7M78.65,306.5L78.65,307.7M269.15,284.5L269.15,285.7M282.7,284.5L282.7,285.7M296.55,284.5L296.55,285.7M310.3,284.5L310.3,285.7M349.45,273.5L349.45,274.7M363.1,273.5L363.1,274.7M376.55,273.5L376.55,274.7M390.35,273.5L390.35,274.7M527.7,272.5L527.7,273.7M541,272.5L541,273.7M554.6,272.5L554.6,273.7M567.9,272.5L567.9,273.7M689,282.5L689,283.7M702.85,282.5L702.85,283.7M716.4,282.5L716.4,283.7M730.1,282.5L730.1,283.7M387.3,353.5L387.3,354.7M400.9,353.5L400.9,354.7M414.7,353.5L414.7,354.7M428.55,353.5L428.55,354.7M269.15,353.5L269.15,354.7M282.75,353.5L282.75,354.7M296.2,353.5L296.2,354.7M309.9,353.5L309.9,354.7M514.95,354.5L514.95,355.7M528.75,354.5L528.75,355.7M542.4,354.5L542.4,355.7M556.05,354.5L556.05,355.7M682.05,362.5L682.05,363.7M695.6,362.5L695.6,363.7M709.25,362.5L709.25,363.7M723,362.5L723,363.7M36.6,378.5L36.6,379.7M49.95,378.5L49.95,379.7M63.65,378.5L63.65,379.7M77.2,378.5L77.2,379.7M116.05,372.5L116.05,373.7M130.05,372.5L130.05,373.7M143.9,372.5L143.9,373.7M157.8,372.5L157.8,373.7M69.15,444.5L69.15,445.7M83.1,444.5L83.1,445.7M96.8,444.5L96.8,445.7M110.9,444.5L110.9,445.7M181,441.5L181,442.7M194.5,441.5L194.5,442.7M208,441.5L208,442.7M221.8,441.5L221.8,442.7M269,443.5L269,444.7M282.7,443.5L282.7,444.7M296.4,443.5L296.4,444.7M310.15,443.5L310.15,444.7M348.25,431.5L348.25,432.7M362.1,431.5L362.1,432.7M375.45,431.5L375.45,432.7M389.25,431.5L389.25,432.7M517.65,439.5L517.65,440.7M531.5,439.5L531.5,440.7M545.25,439.5L545.25,440.7M558.85,439.5L558.85,440.7M608.5,443.5L608.5,444.7M622,443.5L622,444.7M635.55,443.5L635.55,444.7M648.95,443.5L648.95,444.7M686.25,447.5L686.25,448.7M700,447.5L700,448.7M713.4,447.5L713.4,448.7M726.9,447.5L726.9,448.7"/>
<path fill="none" stroke="#4a4a4a" stroke-width="2.0" d="M80.5,55.6L167,55.6"/>
<path fill="none" stroke="#6e6e6e" stroke-width="3.4" d="M166,56.4L292.8,56.4"/>
<path fill="none" stroke="#707070" stroke-width="1.5" d="M89.1,56.6L89.1,228M89.1,243.2L89.1,305"/>
<path fill="none" stroke="#333" stroke-width="1.0" d="M166.5,56.6L166.5,129M166.5,143L166.5,206M89.2,325L89.2,382M320.3,300.7L320.3,362.8M320.3,381L320.3,452"/>
<path fill="none" stroke="#222" stroke-width="1.0" d="M342.3,57.4L451,57.4M502.5,57.8L600.5,57.8M507.2,133.5L725,133.5M498.5,215.6L581.3,215.6M581.3,215.6L581.3,275.3M581.3,294.6L581.3,458M581.8,457.9L343,457.9M342.4,371L476,371M475.6,371.5L475.6,223.5M343,455.2L483,455.2M482.5,455.7L482.5,223.5M339.3,460.4L716,460.4"/>
<path fill="none" stroke="#707070" stroke-width="1.3" d="M320,61.5L320,124.5M320,141L320,204.5"/>
<path fill="none" stroke="#444" stroke-width="1.1" d="M320,219L320,285.5M738.7,142.5L738.7,290M738.7,302L738.7,457"/>
<path fill="none" stroke="#444" stroke-width="1.0" d="M479.6,62.5L479.6,122.5M479.2,139L479.2,205"/>
<path fill="none" stroke="#7a7a7a" stroke-width="1.8" d="M135,457L300.7,457"/>
<path fill="#222" d="M79.4,55.6L84,53.4L84,57.8ZM166.6,132.9L164.7,128.5L168.5,128.5ZM166.5,209.9L164.6,205.5L168.4,205.5ZM89.2,321.2L87.3,325.6L91.1,325.6ZM89.2,385.7L87.3,381.3L91.1,381.3ZM455,57.4L450.6,55.5L450.6,59.3ZM604.5,57.8L600.1,55.9L600.1,59.7ZM320,289.1L318.1,284.7L321.9,284.7ZM320.3,366.5L318.4,362.1L322.2,362.1ZM320.3,377.2L318.4,381.6L322.2,381.6ZM479.6,126.2L477.7,121.8L481.5,121.8ZM479,209L477.1,204.6L480.9,204.6ZM729,133.5L724.6,131.6L724.6,135.4ZM738.7,139L736.8,143.4L740.6,143.4ZM738.7,298.2L736.8,302.6L740.6,302.6ZM581.3,279L579.4,274.6L583.2,274.6ZM475.6,219.7L473.7,224.1L477.5,224.1ZM482.5,219.7L480.6,224.1L484.4,224.1ZM719.7,460.4L715.3,458.5L715.3,462.3ZM132.3,457L136.7,455.1L136.7,458.9Z"/>
<path fill="#333" d="M89.1,231.9L87.2,227.5L91,227.5ZM89.1,308.6L87.2,304.2L91,304.2ZM4.3,200L2.4,195.6L6.2,195.6ZM4.5,250.7L2.6,255.1L6.4,255.1ZM721.9,40.4L720,44.8L723.8,44.8ZM320,128.2L318.1,123.8L321.9,123.8ZM320,208.2L318.1,203.8L321.9,203.8Z"/>
<path fill="#111" d="M339.5,455.2L344.1,453.3L344.1,457.1ZM339.5,457.9L344.1,456L344.1,459.8Z"/>
<path d="M7.4,391.5L66.6,391.5" stroke="#555" stroke-width="1.1" stroke-dasharray="5.8 3.7"/>
<path d="M4.5,390.7L4.5,255" stroke="#555" stroke-width="1.1" stroke-dasharray="5.8 3.7"/>
<path d="M4.5,60.6L4.5,196" stroke="#555" stroke-width="1.1" stroke-dasharray="5.2 3.4"/>
<path d="M24,60.6L4.5,60.6" stroke="#555" stroke-width="1.1" stroke-dasharray="5.2 3.4"/>
<text class="l" transform="translate(40.95,9.8) scale(0.88,1)" text-anchor="middle">a</text>
<text class="l" transform="translate(55,27.3) scale(0.88,1)" text-anchor="middle">a</text>
<text class="l" transform="translate(68.58,9.2) scale(0.88,1)" text-anchor="middle">a</text>
<text class="l" transform="translate(82.5,18.2) scale(0.88,1)" text-anchor="middle">a</text>
<text class="k" transform="translate(31.7,15.5) scale(0.82,1)" text-anchor="end">6.0</text>
<text class="k" transform="translate(31.7,31.6) scale(0.82,1)" text-anchor="end">5.5</text>
<text class="k" transform="translate(31.7,47.2) scale(0.82,1)" text-anchor="end">5.0</text>
<text class="t" transform="translate(40.95,51.9) scale(0.86,1)" text-anchor="middle">T1</text>
<text class="t" transform="translate(55,51.9) scale(0.86,1)" text-anchor="middle">T2</text>
<text class="t" transform="translate(68.58,51.9) scale(0.86,1)" text-anchor="middle">T3</text>
<text class="t" transform="translate(82.5,51.9) scale(0.86,1)" text-anchor="middle">T4</text>
<text class="l" transform="translate(141.75,2.9) scale(0.88,1)" text-anchor="middle">a</text>
<text class="l" transform="translate(155.2,7.3) scale(0.88,1)" text-anchor="middle">a</text>
<text class="l" transform="translate(168.95,17.7) scale(0.88,1)" text-anchor="middle">b</text>
<text class="l" transform="translate(182.75,30.6) scale(0.88,1)" text-anchor="middle">c</text>
<text class="k" transform="translate(132.1,8) scale(0.82,1)" text-anchor="end">2.5</text>
<text class="k" transform="translate(132.1,21.7) scale(0.82,1)" text-anchor="end">2.0</text>
<text class="k" transform="translate(132.1,35.4) scale(0.82,1)" text-anchor="end">1.5</text>
<text class="t" transform="translate(141.75,45.5) scale(0.86,1)" text-anchor="middle">T1</text>
<text class="t" transform="translate(155.2,45.5) scale(0.86,1)" text-anchor="middle">T2</text>
<text class="t" transform="translate(168.95,45.5) scale(0.86,1)" text-anchor="middle">T3</text>
<text class="t" transform="translate(182.75,45.5) scale(0.86,1)" text-anchor="middle">T4</text>
<text class="g" x="157" y="52.6" text-anchor="middle">gdhA</text>
<text class="l" transform="translate(301.75,15.2) scale(0.88,1)" text-anchor="middle">a</text>
<text class="l" transform="translate(315.45,10.1) scale(0.88,1)" text-anchor="middle">a</text>
<text class="l" transform="translate(329.1,26) scale(0.88,1)" text-anchor="middle">b</text>
<text class="l" transform="translate(342.95,24.7) scale(0.88,1)" text-anchor="middle">b</text>
<text class="k" transform="translate(292.2,10.8) scale(0.82,1)" text-anchor="end">6.0</text>
<text class="k" transform="translate(292.2,25.2) scale(0.82,1)" text-anchor="end">5.4</text>
<text class="k" transform="translate(292.2,39.8) scale(0.82,1)" text-anchor="end">4.8</text>
<text class="t" transform="translate(301.75,51.6) scale(0.86,1)" text-anchor="middle">T1</text>
<text class="t" transform="translate(315.45,51.6) scale(0.86,1)" text-anchor="middle">T2</text>
<text class="t" transform="translate(329.1,51.6) scale(0.86,1)" text-anchor="middle">T3</text>
<text class="t" transform="translate(342.95,51.6) scale(0.86,1)" text-anchor="middle">T4</text>
<text class="l" transform="translate(384.25,3.7) scale(0.88,1)" text-anchor="middle">a</text>
<text class="l" transform="translate(397.9,26.7) scale(0.88,1)" text-anchor="middle">b</text>
<text class="l" transform="translate(411.6,28.7) scale(0.88,1)" text-anchor="middle">b</text>
<text class="l" transform="translate(425.1,34.1) scale(0.88,1)" text-anchor="middle">c</text>
<text class="k" transform="translate(375,6.7) scale(0.82,1)" text-anchor="end">3.0</text>
<text class="k" transform="translate(375,19.6) scale(0.82,1)" text-anchor="end">2.4</text>
<text class="k" transform="translate(375,32) scale(0.82,1)" text-anchor="end">1.8</text>
<text class="t" transform="translate(384.25,46.8) scale(0.86,1)" text-anchor="middle">T1</text>
<text class="t" transform="translate(397.9,46.8) scale(0.86,1)" text-anchor="middle">T2</text>
<text class="t" transform="translate(411.6,46.8) scale(0.86,1)" text-anchor="middle">T3</text>
<text class="t" transform="translate(425.1,46.8) scale(0.86,1)" text-anchor="middle">T4</text>
<text class="g" x="398.7" y="54.7" text-anchor="middle">glnA</text>
<text class="l" transform="translate(462.85,28.7) scale(0.88,1)" text-anchor="middle">b</text>
<text class="l" transform="translate(476.65,10.5) scale(0.88,1)" text-anchor="middle">a</text>
<text class="l" transform="translate(490.1,13.9) scale(0.88,1)" text-anchor="middle">ab</text>
<text class="l" transform="translate(503.85,20.3) scale(0.88,1)" text-anchor="middle">ab</text>
<text class="k" transform="translate(453.6,16.5) scale(0.82,1)" text-anchor="end">3.8</text>
<text class="k" transform="translate(453.6,31.7) scale(0.82,1)" text-anchor="end">3.6</text>
<text class="k" transform="translate(453.6,47.3) scale(0.82,1)" text-anchor="end">3.4</text>
<text class="t" transform="translate(462.85,51.9) scale(0.86,1)" text-anchor="middle">T1</text>
<text class="t" transform="translate(476.65,51.9) scale(0.86,1)" text-anchor="middle">T2</text>
<text class="t" transform="translate(490.1,51.9) scale(0.86,1)" text-anchor="middle">T3</text>
<text class="t" transform="translate(503.85,51.9) scale(0.86,1)" text-anchor="middle">T4</text>
<text class="l" transform="translate(544.85,7.4) scale(0.88,1)" text-anchor="middle">a</text>
<text class="l" transform="translate(558.65,23.6) scale(0.88,1)" text-anchor="middle">c</text>
<text class="l" transform="translate(572.3,14.9) scale(0.88,1)" text-anchor="middle">b</text>
<text class="l" transform="translate(586.1,28.7) scale(0.88,1)" text-anchor="middle">c</text>
<text class="k" transform="translate(535.6,8.4) scale(0.82,1)" text-anchor="end">2.8</text>
<text class="k" transform="translate(535.6,25.4) scale(0.82,1)" text-anchor="end">2.4</text>
<text class="k" transform="translate(535.6,42.5) scale(0.82,1)" text-anchor="end">2.0</text>
<text class="t" transform="translate(544.85,47.2) scale(0.86,1)" text-anchor="middle">T1</text>
<text class="t" transform="translate(558.65,47.2) scale(0.86,1)" text-anchor="middle">T2</text>
<text class="t" transform="translate(572.3,47.2) scale(0.86,1)" text-anchor="middle">T3</text>
<text class="t" transform="translate(586.1,47.2) scale(0.86,1)" text-anchor="middle">T4</text>
<text class="g" x="560" y="54.7" text-anchor="middle">glmS</text>
<text class="l" transform="translate(626.55,16.6) scale(0.88,1)" text-anchor="middle">b</text>
<text class="l" transform="translate(640.25,10.1) scale(0.88,1)" text-anchor="middle">a</text>
<text class="l" transform="translate(653.75,30.3) scale(0.88,1)" text-anchor="middle">c</text>
<text class="l" transform="translate(667.3,31.7) scale(0.88,1)" text-anchor="middle">c</text>
<text class="k" transform="translate(617,20.5) scale(0.82,1)" text-anchor="end">4.0</text>
<text class="k" transform="translate(617,33.8) scale(0.82,1)" text-anchor="end">3.6</text>
<text class="k" transform="translate(617,47.3) scale(0.82,1)" text-anchor="end">3.2</text>
<text class="t" transform="translate(626.55,51.9) scale(0.86,1)" text-anchor="middle">T1</text>
<text class="t" transform="translate(640.25,51.9) scale(0.86,1)" text-anchor="middle">T2</text>
<text class="t" transform="translate(653.75,51.9) scale(0.86,1)" text-anchor="middle">T3</text>
<text class="t" transform="translate(667.3,51.9) scale(0.86,1)" text-anchor="middle">T4</text>
<text class="l" transform="translate(33.55,121.1) scale(0.88,1)" text-anchor="middle">a</text>
<text class="l" transform="translate(47.15,146) scale(0.88,1)" text-anchor="middle">b</text>
<text class="l" transform="translate(60.9,154.1) scale(0.88,1)" text-anchor="middle">c</text>
<text class="k" transform="translate(24.2,131.6) scale(0.82,1)" text-anchor="end">0.8</text>
<text class="k" transform="translate(24.2,145.5) scale(0.82,1)" text-anchor="end">0.4</text>
<text class="k" transform="translate(24.2,159.2) scale(0.82,1)" text-anchor="end">0.0</text>
<text class="t" transform="translate(33.55,163.3) scale(0.86,1)" text-anchor="middle">T1</text>
<text class="t" transform="translate(47.15,163.3) scale(0.86,1)" text-anchor="middle">T2</text>
<text class="t" transform="translate(60.9,163.3) scale(0.86,1)" text-anchor="middle">T3</text>
<text class="t" transform="translate(74.65,163.3) scale(0.86,1)" text-anchor="middle">T4</text>
<text class="g" transform="translate(84.7,133.3) rotate(90)" y="2.7" text-anchor="middle">gadA</text>
<text class="l" transform="translate(116,92.8) scale(0.88,1)" text-anchor="middle">a</text>
<text class="l" transform="translate(129.5,107.8) scale(0.88,1)" text-anchor="middle">a</text>
<text class="l" transform="translate(143.25,102.2) scale(0.88,1)" text-anchor="middle">a</text>
<text class="l" transform="translate(157.05,96.2) scale(0.88,1)" text-anchor="middle">a</text>
<text class="k" transform="translate(106.5,93.6) scale(0.82,1)" text-anchor="end">5.2</text>
<text class="k" transform="translate(106.5,110.6) scale(0.82,1)" text-anchor="end">4.8</text>
<text class="k" transform="translate(106.5,128.2) scale(0.82,1)" text-anchor="end">4.4</text>
<text class="t" transform="translate(116,132.6) scale(0.86,1)" text-anchor="middle">T1</text>
<text class="t" transform="translate(129.5,132.6) scale(0.86,1)" text-anchor="middle">T2</text>
<text class="t" transform="translate(143.25,132.6) scale(0.86,1)" text-anchor="middle">T3</text>
<text class="t" transform="translate(157.05,132.6) scale(0.86,1)" text-anchor="middle">T4</text>
<text class="l" transform="translate(195.2,77) scale(0.88,1)" text-anchor="middle">a</text>
<text class="l" transform="translate(209.1,88) scale(0.88,1)" text-anchor="middle">b</text>
<text class="l" transform="translate(222.4,91.7) scale(0.88,1)" text-anchor="middle">c</text>
<text class="l" transform="translate(235.95,102.5) scale(0.88,1)" text-anchor="middle">d</text>
<text class="k" transform="translate(185.5,81.1) scale(0.82,1)" text-anchor="end">1.2</text>
<text class="k" transform="translate(185.5,97.8) scale(0.82,1)" text-anchor="end">0.6</text>
<text class="k" transform="translate(185.5,114.4) scale(0.82,1)" text-anchor="end">0.0</text>
<text class="t" transform="translate(195.2,119.3) scale(0.86,1)" text-anchor="middle">T1</text>
<text class="t" transform="translate(209.1,119.3) scale(0.86,1)" text-anchor="middle">T2</text>
<text class="t" transform="translate(222.4,119.3) scale(0.86,1)" text-anchor="middle">T3</text>
<text class="t" transform="translate(235.95,119.3) scale(0.86,1)" text-anchor="middle">T4</text>
<text class="g" transform="translate(171.4,96.5) rotate(90)" y="2.7" text-anchor="middle">murI</text>
<text class="l" transform="translate(269,101.7) scale(0.88,1)" text-anchor="middle">b</text>
<text class="l" transform="translate(282.45,117.4) scale(0.88,1)" text-anchor="middle">c</text>
<text class="l" transform="translate(296.4,87) scale(0.88,1)" text-anchor="middle">a</text>
<text class="l" transform="translate(310.3,97.5) scale(0.88,1)" text-anchor="middle">ab</text>
<text class="k" transform="translate(259.3,94.9) scale(0.82,1)" text-anchor="end">4.5</text>
<text class="k" transform="translate(259.3,108.9) scale(0.82,1)" text-anchor="end">3.6</text>
<text class="k" transform="translate(259.3,122.7) scale(0.82,1)" text-anchor="end">2.7</text>
<text class="t" transform="translate(269,130.1) scale(0.86,1)" text-anchor="middle">T1</text>
<text class="t" transform="translate(282.45,130.1) scale(0.86,1)" text-anchor="middle">T2</text>
<text class="t" transform="translate(296.4,130.1) scale(0.86,1)" text-anchor="middle">T3</text>
<text class="t" transform="translate(310.3,130.1) scale(0.86,1)" text-anchor="middle">T4</text>
<text class="l" transform="translate(348,94.6) scale(0.88,1)" text-anchor="middle">bc</text>
<text class="l" transform="translate(361.8,96.1) scale(0.88,1)" text-anchor="middle">c</text>
<text class="l" transform="translate(375.5,90.8) scale(0.88,1)" text-anchor="middle">b</text>
<text class="l" transform="translate(389.05,76.3) scale(0.88,1)" text-anchor="middle">a</text>
<text class="k" transform="translate(338.2,84.5) scale(0.82,1)" text-anchor="end">2.1</text>
<text class="k" transform="translate(338.2,99.4) scale(0.82,1)" text-anchor="end">1.8</text>
<text class="k" transform="translate(338.2,114.9) scale(0.82,1)" text-anchor="end">1.5</text>
<text class="t" transform="translate(348,119.3) scale(0.86,1)" text-anchor="middle">T1</text>
<text class="t" transform="translate(361.8,119.3) scale(0.86,1)" text-anchor="middle">T2</text>
<text class="t" transform="translate(375.5,119.3) scale(0.86,1)" text-anchor="middle">T3</text>
<text class="t" transform="translate(389.05,119.3) scale(0.86,1)" text-anchor="middle">T4</text>
<text class="g" transform="translate(328.8,97.2) rotate(90)" y="2.7" text-anchor="middle">argA</text>
<text class="l" transform="translate(429,104.4) scale(0.88,1)" text-anchor="middle">b</text>
<text class="l" transform="translate(442.4,96) scale(0.88,1)" text-anchor="middle">a</text>
<text class="l" transform="translate(456.15,88.5) scale(0.88,1)" text-anchor="middle">a</text>
<text class="l" transform="translate(469.75,87.6) scale(0.88,1)" text-anchor="middle">a</text>
<text class="k" transform="translate(419.4,87) scale(0.82,1)" text-anchor="end">6.0</text>
<text class="k" transform="translate(419.4,105.3) scale(0.82,1)" text-anchor="end">5.7</text>
<text class="k" transform="translate(419.4,124) scale(0.82,1)" text-anchor="end">5.4</text>
<text class="t" transform="translate(429,129) scale(0.86,1)" text-anchor="middle">T1</text>
<text class="t" transform="translate(442.4,129) scale(0.86,1)" text-anchor="middle">T2</text>
<text class="t" transform="translate(456.15,129) scale(0.86,1)" text-anchor="middle">T3</text>
<text class="t" transform="translate(469.75,129) scale(0.86,1)" text-anchor="middle">T4</text>
<text class="l" transform="translate(508.1,76.9) scale(0.88,1)" text-anchor="middle">a</text>
<text class="l" transform="translate(521.7,78.8) scale(0.88,1)" text-anchor="middle">a</text>
<text class="l" transform="translate(535.35,100.7) scale(0.88,1)" text-anchor="middle">b</text>
<text class="l" transform="translate(549.4,102.2) scale(0.88,1)" text-anchor="middle">b</text>
<text class="k" transform="translate(498.5,83.2) scale(0.82,1)" text-anchor="end">2.0</text>
<text class="k" transform="translate(498.5,99.1) scale(0.82,1)" text-anchor="end">1.5</text>
<text class="k" transform="translate(498.5,114.7) scale(0.82,1)" text-anchor="end">1.0</text>
<text class="t" transform="translate(508.1,119.1) scale(0.86,1)" text-anchor="middle">T1</text>
<text class="t" transform="translate(521.7,119.1) scale(0.86,1)" text-anchor="middle">T2</text>
<text class="t" transform="translate(535.35,119.1) scale(0.86,1)" text-anchor="middle">T3</text>
<text class="t" transform="translate(549.4,119.1) scale(0.86,1)" text-anchor="middle">T4</text>
<text class="g" transform="translate(488,95) rotate(90)" y="2.7" text-anchor="middle">carB</text>
<text class="l" transform="translate(587.85,110) scale(0.88,1)" text-anchor="middle">c</text>
<text class="l" transform="translate(600.9,94.6) scale(0.88,1)" text-anchor="middle">b</text>
<text class="l" transform="translate(614.65,85.8) scale(0.88,1)" text-anchor="middle">a</text>
<text class="l" transform="translate(628.15,84.2) scale(0.88,1)" text-anchor="middle">a</text>
<text class="k" transform="translate(578.4,92.4) scale(0.82,1)" text-anchor="end">2.4</text>
<text class="k" transform="translate(578.4,111.4) scale(0.82,1)" text-anchor="end">2.0</text>
<text class="t" transform="translate(587.85,126) scale(0.86,1)" text-anchor="middle">T1</text>
<text class="t" transform="translate(600.9,126) scale(0.86,1)" text-anchor="middle">T2</text>
<text class="t" transform="translate(614.65,126) scale(0.86,1)" text-anchor="middle">T3</text>
<text class="t" transform="translate(628.15,126) scale(0.86,1)" text-anchor="middle">T4</text>
<text class="g" x="602" y="131.8" text-anchor="middle">arcC</text>
<text class="l" transform="translate(691.2,112) scale(0.88,1)" text-anchor="middle">b</text>
<text class="l" transform="translate(705.1,110.8) scale(0.88,1)" text-anchor="middle">b</text>
<text class="l" transform="translate(718.6,90.8) scale(0.88,1)" text-anchor="middle">a</text>
<text class="l" transform="translate(732.3,110.8) scale(0.88,1)" text-anchor="middle">b</text>
<text class="k" transform="translate(681.9,88.6) scale(0.82,1)" text-anchor="end">5.1</text>
<text class="k" transform="translate(681.9,107.3) scale(0.82,1)" text-anchor="end">4.8</text>
<text class="k" transform="translate(681.9,125.6) scale(0.82,1)" text-anchor="end">4.5</text>
<text class="t" transform="translate(691.2,130.5) scale(0.86,1)" text-anchor="middle">T1</text>
<text class="t" transform="translate(705.1,130.5) scale(0.86,1)" text-anchor="middle">T2</text>
<text class="t" transform="translate(718.6,130.5) scale(0.86,1)" text-anchor="middle">T3</text>
<text class="t" transform="translate(732.3,130.5) scale(0.86,1)" text-anchor="middle">T4</text>
<text class="l" transform="translate(194.7,159.2) scale(0.88,1)" text-anchor="middle">a</text>
<text class="l" transform="translate(208.5,167.5) scale(0.88,1)" text-anchor="middle">b</text>
<text class="l" transform="translate(222.25,167) scale(0.88,1)" text-anchor="middle">b</text>
<text class="l" transform="translate(235.75,185) scale(0.88,1)" text-anchor="middle">c</text>
<text class="k" transform="translate(185.2,161.1) scale(0.82,1)" text-anchor="end">2.0</text>
<text class="k" transform="translate(185.2,178.3) scale(0.82,1)" text-anchor="end">1.6</text>
<text class="k" transform="translate(185.2,195.6) scale(0.82,1)" text-anchor="end">1.2</text>
<text class="t" transform="translate(194.7,200.1) scale(0.86,1)" text-anchor="middle">T1</text>
<text class="t" transform="translate(208.5,200.1) scale(0.86,1)" text-anchor="middle">T2</text>
<text class="t" transform="translate(222.25,200.1) scale(0.86,1)" text-anchor="middle">T3</text>
<text class="t" transform="translate(235.75,200.1) scale(0.86,1)" text-anchor="middle">T4</text>
<text class="g" transform="translate(170.6,172.9) rotate(90)" y="2.7" text-anchor="middle">EC 4.2.1.48</text>
<text class="l" transform="translate(117.1,184.5) scale(0.88,1)" text-anchor="middle">a</text>
<text class="l" transform="translate(130.6,182.6) scale(0.88,1)" text-anchor="middle">a</text>
<text class="l" transform="translate(144.45,174.2) scale(0.88,1)" text-anchor="middle">a</text>
<text class="l" transform="translate(158.05,165.7) scale(0.88,1)" text-anchor="middle">a</text>
<text class="k" transform="translate(107.9,166.6) scale(0.82,1)" text-anchor="end">5.1</text>
<text class="k" transform="translate(107.9,184.8) scale(0.82,1)" text-anchor="end">4.8</text>
<text class="k" transform="translate(107.9,203.5) scale(0.82,1)" text-anchor="end">4.5</text>
<text class="t" transform="translate(117.1,208.4) scale(0.86,1)" text-anchor="middle">T1</text>
<text class="t" transform="translate(130.6,208.4) scale(0.86,1)" text-anchor="middle">T2</text>
<text class="t" transform="translate(144.45,208.4) scale(0.86,1)" text-anchor="middle">T3</text>
<text class="t" transform="translate(158.05,208.4) scale(0.86,1)" text-anchor="middle">T4</text>
<text class="l" transform="translate(269,190.8) scale(0.88,1)" text-anchor="middle">c</text>
<text class="l" transform="translate(282.6,184.6) scale(0.88,1)" text-anchor="middle">bc</text>
<text class="l" transform="translate(296.4,168.7) scale(0.88,1)" text-anchor="middle">a</text>
<text class="l" transform="translate(310.15,173.6) scale(0.88,1)" text-anchor="middle">ab</text>
<text class="k" transform="translate(259.7,168.6) scale(0.82,1)" text-anchor="end">5.1</text>
<text class="k" transform="translate(259.7,182.4) scale(0.82,1)" text-anchor="end">4.8</text>
<text class="k" transform="translate(259.7,196.6) scale(0.82,1)" text-anchor="end">4.5</text>
<text class="t" transform="translate(269,208.5) scale(0.86,1)" text-anchor="middle">T1</text>
<text class="t" transform="translate(282.6,208.5) scale(0.86,1)" text-anchor="middle">T2</text>
<text class="t" transform="translate(296.4,208.5) scale(0.86,1)" text-anchor="middle">T3</text>
<text class="t" transform="translate(310.15,208.5) scale(0.86,1)" text-anchor="middle">T4</text>
<text class="l" transform="translate(348,181.6) scale(0.88,1)" text-anchor="middle">c</text>
<text class="l" transform="translate(361.8,158.7) scale(0.88,1)" text-anchor="middle">a</text>
<text class="l" transform="translate(375.6,162) scale(0.88,1)" text-anchor="middle">b</text>
<text class="l" transform="translate(389.3,187.5) scale(0.88,1)" text-anchor="middle">d</text>
<text class="k" transform="translate(339.1,160) scale(0.82,1)" text-anchor="end">3.5</text>
<text class="k" transform="translate(339.1,174.9) scale(0.82,1)" text-anchor="end">2.8</text>
<text class="k" transform="translate(339.1,189.9) scale(0.82,1)" text-anchor="end">2.1</text>
<text class="t" transform="translate(348,201) scale(0.86,1)" text-anchor="middle">T1</text>
<text class="t" transform="translate(361.8,201) scale(0.86,1)" text-anchor="middle">T2</text>
<text class="t" transform="translate(375.6,201) scale(0.86,1)" text-anchor="middle">T3</text>
<text class="t" transform="translate(389.3,201) scale(0.86,1)" text-anchor="middle">T4</text>
<text class="g" transform="translate(330.3,176.5) rotate(90)" y="2.7" text-anchor="middle">argB</text>
<text class="l" transform="translate(430.25,182.5) scale(0.88,1)" text-anchor="middle">b</text>
<text class="l" transform="translate(444.3,173.2) scale(0.88,1)" text-anchor="middle">a</text>
<text class="l" transform="translate(457.95,167) scale(0.88,1)" text-anchor="middle">a</text>
<text class="l" transform="translate(471.6,167) scale(0.88,1)" text-anchor="middle">a</text>
<text class="k" transform="translate(421.2,172.9) scale(0.82,1)" text-anchor="end">5.0</text>
<text class="k" transform="translate(421.2,186) scale(0.82,1)" text-anchor="end">4.8</text>
<text class="k" transform="translate(421.2,198.7) scale(0.82,1)" text-anchor="end">4.6</text>
<text class="t" transform="translate(430.25,209.7) scale(0.86,1)" text-anchor="middle">T1</text>
<text class="t" transform="translate(444.3,209.7) scale(0.86,1)" text-anchor="middle">T2</text>
<text class="t" transform="translate(457.95,209.7) scale(0.86,1)" text-anchor="middle">T3</text>
<text class="t" transform="translate(471.6,209.7) scale(0.86,1)" text-anchor="middle">T4</text>
<text class="l" transform="translate(510.4,154.4) scale(0.88,1)" text-anchor="middle">a</text>
<text class="l" transform="translate(524.3,172) scale(0.88,1)" text-anchor="middle">b</text>
<text class="l" transform="translate(538.05,153.9) scale(0.88,1)" text-anchor="middle">a</text>
<text class="l" transform="translate(551.6,176.9) scale(0.88,1)" text-anchor="middle">b</text>
<text class="k" transform="translate(501.2,153.2) scale(0.82,1)" text-anchor="end">2.8</text>
<text class="k" transform="translate(501.2,165) scale(0.82,1)" text-anchor="end">2.6</text>
<text class="k" transform="translate(501.2,177.2) scale(0.82,1)" text-anchor="end">2.4</text>
<text class="k" transform="translate(501.2,188.8) scale(0.82,1)" text-anchor="end">2.2</text>
<text class="t" transform="translate(510.4,193.4) scale(0.86,1)" text-anchor="middle">T1</text>
<text class="t" transform="translate(524.3,193.4) scale(0.86,1)" text-anchor="middle">T2</text>
<text class="t" transform="translate(538.05,193.4) scale(0.86,1)" text-anchor="middle">T3</text>
<text class="t" transform="translate(551.6,193.4) scale(0.86,1)" text-anchor="middle">T4</text>
<text class="g" transform="translate(487.7,167) rotate(90)" y="2.7" text-anchor="middle">argF</text>
<text class="l" transform="translate(685.2,180.3) scale(0.88,1)" text-anchor="middle">a</text>
<text class="l" transform="translate(699.1,181.7) scale(0.88,1)" text-anchor="middle">a</text>
<text class="l" transform="translate(712.7,197.5) scale(0.88,1)" text-anchor="middle">b</text>
<text class="l" transform="translate(726.3,211.1) scale(0.88,1)" text-anchor="middle">c</text>
<text class="k" transform="translate(676.2,182.8) scale(0.82,1)" text-anchor="end">3.2</text>
<text class="k" transform="translate(676.2,200.3) scale(0.82,1)" text-anchor="end">2.8</text>
<text class="k" transform="translate(676.2,217.7) scale(0.82,1)" text-anchor="end">2.4</text>
<text class="t" transform="translate(685.2,221.8) scale(0.86,1)" text-anchor="middle">T1</text>
<text class="t" transform="translate(699.1,221.8) scale(0.86,1)" text-anchor="middle">T2</text>
<text class="t" transform="translate(712.7,221.8) scale(0.86,1)" text-anchor="middle">T3</text>
<text class="t" transform="translate(726.3,221.8) scale(0.86,1)" text-anchor="middle">T4</text>
<text class="g" transform="translate(733,195.4) rotate(90)" y="2.7" text-anchor="middle">arcC</text>
<text class="l" transform="translate(37.45,203.3) scale(0.88,1)" text-anchor="middle">a</text>
<text class="l" transform="translate(51.4,196.3) scale(0.88,1)" text-anchor="middle">a</text>
<text class="l" transform="translate(65.15,198) scale(0.88,1)" text-anchor="middle">a</text>
<text class="l" transform="translate(78.9,202.2) scale(0.88,1)" text-anchor="middle">a</text>
<text class="k" transform="translate(28.2,191.6) scale(0.82,1)" text-anchor="end">4.0</text>
<text class="k" transform="translate(28.2,209.4) scale(0.82,1)" text-anchor="end">3.6</text>
<text class="k" transform="translate(28.2,227.7) scale(0.82,1)" text-anchor="end">3.2</text>
<text class="t" transform="translate(37.45,232.1) scale(0.86,1)" text-anchor="middle">T1</text>
<text class="t" transform="translate(51.4,232.1) scale(0.86,1)" text-anchor="middle">T2</text>
<text class="t" transform="translate(65.15,232.1) scale(0.86,1)" text-anchor="middle">T3</text>
<text class="t" transform="translate(78.9,232.1) scale(0.86,1)" text-anchor="middle">T4</text>
<text class="l" transform="translate(116.8,273.8) scale(0.88,1)" text-anchor="middle">b</text>
<text class="l" transform="translate(130.45,260) scale(0.88,1)" text-anchor="middle">a</text>
<text class="l" transform="translate(144.2,275.8) scale(0.88,1)" text-anchor="middle">b</text>
<text class="l" transform="translate(157.8,280.8) scale(0.88,1)" text-anchor="middle">c</text>
<text class="k" transform="translate(107.4,261.6) scale(0.82,1)" text-anchor="end">2.4</text>
<text class="k" transform="translate(107.4,278.6) scale(0.82,1)" text-anchor="end">2.0</text>
<text class="k" transform="translate(107.4,295.6) scale(0.82,1)" text-anchor="end">1.6</text>
<text class="t" transform="translate(116.8,301) scale(0.86,1)" text-anchor="middle">T1</text>
<text class="t" transform="translate(130.45,301) scale(0.86,1)" text-anchor="middle">T2</text>
<text class="t" transform="translate(144.2,301) scale(0.86,1)" text-anchor="middle">T3</text>
<text class="t" transform="translate(157.8,301) scale(0.86,1)" text-anchor="middle">T4</text>
<text class="g" transform="translate(95.7,276.8) rotate(90)" y="2.7" text-anchor="middle">gabT</text>
<text class="l" transform="translate(37.3,285) scale(0.88,1)" text-anchor="middle">b</text>
<text class="l" transform="translate(50.9,288.6) scale(0.88,1)" text-anchor="middle">b</text>
<text class="l" transform="translate(64.7,272.8) scale(0.88,1)" text-anchor="middle">a</text>
<text class="l" transform="translate(78.65,278) scale(0.88,1)" text-anchor="middle">a</text>
<text class="k" transform="translate(28.2,275.3) scale(0.82,1)" text-anchor="end">5.7</text>
<text class="k" transform="translate(28.2,291.6) scale(0.82,1)" text-anchor="end">5.4</text>
<text class="k" transform="translate(28.2,308.6) scale(0.82,1)" text-anchor="end">5.1</text>
<text class="t" transform="translate(37.3,313) scale(0.86,1)" text-anchor="middle">T1</text>
<text class="t" transform="translate(50.9,313) scale(0.86,1)" text-anchor="middle">T2</text>
<text class="t" transform="translate(64.7,313) scale(0.86,1)" text-anchor="middle">T3</text>
<text class="t" transform="translate(78.65,313) scale(0.86,1)" text-anchor="middle">T4</text>
<text class="l" transform="translate(269.15,259.6) scale(0.88,1)" text-anchor="middle">a</text>
<text class="l" transform="translate(282.7,259.1) scale(0.88,1)" text-anchor="middle">a</text>
<text class="l" transform="translate(296.55,255) scale(0.88,1)" text-anchor="middle">a</text>
<text class="l" transform="translate(310.3,250.8) scale(0.88,1)" text-anchor="middle">a</text>
<text class="k" transform="translate(260,250.3) scale(0.82,1)" text-anchor="end">4.8</text>
<text class="k" transform="translate(260,268.3) scale(0.82,1)" text-anchor="end">4.2</text>
<text class="k" transform="translate(260,286.4) scale(0.82,1)" text-anchor="end">3.6</text>
<text class="t" transform="translate(269.15,291) scale(0.86,1)" text-anchor="middle">T1</text>
<text class="t" transform="translate(282.7,291) scale(0.86,1)" text-anchor="middle">T2</text>
<text class="t" transform="translate(296.55,291) scale(0.86,1)" text-anchor="middle">T3</text>
<text class="t" transform="translate(310.3,291) scale(0.86,1)" text-anchor="middle">T4</text>
<text class="l" transform="translate(349.45,237.5) scale(0.88,1)" text-anchor="middle">a</text>
<text class="l" transform="translate(363.1,248.3) scale(0.88,1)" text-anchor="middle">b</text>
<text class="l" transform="translate(376.55,239.2) scale(0.88,1)" text-anchor="middle">a</text>
<text class="l" transform="translate(390.35,264.1) scale(0.88,1)" text-anchor="middle">c</text>
<text class="k" transform="translate(340,245.6) scale(0.82,1)" text-anchor="end">2.4</text>
<text class="k" transform="translate(340,260.6) scale(0.82,1)" text-anchor="end">2.1</text>
<text class="k" transform="translate(340,275.6) scale(0.82,1)" text-anchor="end">1.8</text>
<text class="t" transform="translate(349.45,280.5) scale(0.86,1)" text-anchor="middle">T1</text>
<text class="t" transform="translate(363.1,280.5) scale(0.86,1)" text-anchor="middle">T2</text>
<text class="t" transform="translate(376.55,280.5) scale(0.86,1)" text-anchor="middle">T3</text>
<text class="t" transform="translate(390.35,280.5) scale(0.86,1)" text-anchor="middle">T4</text>
<text class="g" transform="translate(329,255.3) rotate(90)" y="2.7" text-anchor="middle">argD</text>
<text class="l" transform="translate(527.7,239.2) scale(0.88,1)" text-anchor="middle">a</text>
<text class="l" transform="translate(541,255.8) scale(0.88,1)" text-anchor="middle">a</text>
<text class="l" transform="translate(554.6,238.7) scale(0.88,1)" text-anchor="middle">a</text>
<text class="l" transform="translate(567.9,247.5) scale(0.88,1)" text-anchor="middle">a</text>
<text class="k" transform="translate(518.5,245.3) scale(0.82,1)" text-anchor="end">6.0</text>
<text class="k" transform="translate(518.5,260.6) scale(0.82,1)" text-anchor="end">5.5</text>
<text class="k" transform="translate(518.5,275.2) scale(0.82,1)" text-anchor="end">5.0</text>
<text class="t" transform="translate(527.7,279.8) scale(0.86,1)" text-anchor="middle">T1</text>
<text class="t" transform="translate(541,279.8) scale(0.86,1)" text-anchor="middle">T2</text>
<text class="t" transform="translate(554.6,279.8) scale(0.86,1)" text-anchor="middle">T3</text>
<text class="t" transform="translate(567.9,279.8) scale(0.86,1)" text-anchor="middle">T4</text>
<text class="l" transform="translate(689,250.8) scale(0.88,1)" text-anchor="middle">ab</text>
<text class="l" transform="translate(702.85,247) scale(0.88,1)" text-anchor="middle">a</text>
<text class="l" transform="translate(716.4,246.3) scale(0.88,1)" text-anchor="middle">a</text>
<text class="l" transform="translate(730.1,260) scale(0.88,1)" text-anchor="middle">b</text>
<text class="k" transform="translate(679.6,251.1) scale(0.82,1)" text-anchor="end">4.8</text>
<text class="k" transform="translate(679.6,267.8) scale(0.82,1)" text-anchor="end">4.5</text>
<text class="k" transform="translate(679.6,284.4) scale(0.82,1)" text-anchor="end">4.2</text>
<text class="t" transform="translate(689,288.8) scale(0.86,1)" text-anchor="middle">T1</text>
<text class="t" transform="translate(702.85,288.8) scale(0.86,1)" text-anchor="middle">T2</text>
<text class="t" transform="translate(716.4,288.8) scale(0.86,1)" text-anchor="middle">T3</text>
<text class="t" transform="translate(730.1,288.8) scale(0.86,1)" text-anchor="middle">T4</text>
<text class="l" transform="translate(387.3,317.8) scale(0.88,1)" text-anchor="middle">a</text>
<text class="l" transform="translate(400.9,328.3) scale(0.88,1)" text-anchor="middle">b</text>
<text class="l" transform="translate(414.7,318.8) scale(0.88,1)" text-anchor="middle">a</text>
<text class="l" transform="translate(428.55,345.8) scale(0.88,1)" text-anchor="middle">c</text>
<text class="k" transform="translate(377.8,325) scale(0.82,1)" text-anchor="end">2.4</text>
<text class="k" transform="translate(377.8,340.3) scale(0.82,1)" text-anchor="end">2.1</text>
<text class="k" transform="translate(377.8,355.6) scale(0.82,1)" text-anchor="end">1.8</text>
<text class="t" transform="translate(387.3,360.1) scale(0.86,1)" text-anchor="middle">T1</text>
<text class="t" transform="translate(400.9,360.1) scale(0.86,1)" text-anchor="middle">T2</text>
<text class="t" transform="translate(414.7,360.1) scale(0.86,1)" text-anchor="middle">T3</text>
<text class="t" transform="translate(428.55,360.1) scale(0.86,1)" text-anchor="middle">T4</text>
<text class="g" x="403.3" y="368.4" text-anchor="middle">OTC</text>
<text class="l" transform="translate(269.15,335.4) scale(0.88,1)" text-anchor="middle">b</text>
<text class="l" transform="translate(282.75,320.4) scale(0.88,1)" text-anchor="middle">a</text>
<text class="l" transform="translate(296.2,317.1) scale(0.88,1)" text-anchor="middle">a</text>
<text class="l" transform="translate(309.9,321.4) scale(0.88,1)" text-anchor="middle">a</text>
<text class="k" transform="translate(259.5,322.6) scale(0.82,1)" text-anchor="end">5.1</text>
<text class="k" transform="translate(259.5,339.1) scale(0.82,1)" text-anchor="end">4.8</text>
<text class="k" transform="translate(259.5,355.9) scale(0.82,1)" text-anchor="end">4.5</text>
<text class="t" transform="translate(269.15,360.3) scale(0.86,1)" text-anchor="middle">T1</text>
<text class="t" transform="translate(282.75,360.3) scale(0.86,1)" text-anchor="middle">T2</text>
<text class="t" transform="translate(296.2,360.3) scale(0.86,1)" text-anchor="middle">T3</text>
<text class="t" transform="translate(309.9,360.3) scale(0.86,1)" text-anchor="middle">T4</text>
<text class="l" transform="translate(514.95,318.3) scale(0.88,1)" text-anchor="middle">a</text>
<text class="l" transform="translate(528.75,329.2) scale(0.88,1)" text-anchor="middle">b</text>
<text class="l" transform="translate(542.4,319.2) scale(0.88,1)" text-anchor="middle">a</text>
<text class="l" transform="translate(556.05,346.3) scale(0.88,1)" text-anchor="middle">c</text>
<text class="k" transform="translate(505.5,325.8) scale(0.82,1)" text-anchor="end">2.4</text>
<text class="k" transform="translate(505.5,341.1) scale(0.82,1)" text-anchor="end">2.1</text>
<text class="k" transform="translate(505.5,356.6) scale(0.82,1)" text-anchor="end">1.8</text>
<text class="t" transform="translate(514.95,361) scale(0.86,1)" text-anchor="middle">T1</text>
<text class="t" transform="translate(528.75,361) scale(0.86,1)" text-anchor="middle">T2</text>
<text class="t" transform="translate(542.4,361) scale(0.86,1)" text-anchor="middle">T3</text>
<text class="t" transform="translate(556.05,361) scale(0.86,1)" text-anchor="middle">T4</text>
<text class="g" transform="translate(492.1,337) rotate(90)" y="2.7" text-anchor="middle">OTC</text>
<text class="l" transform="translate(682.05,327.8) scale(0.88,1)" text-anchor="middle">a</text>
<text class="l" transform="translate(695.6,331.3) scale(0.88,1)" text-anchor="middle">a</text>
<text class="l" transform="translate(709.25,342.5) scale(0.88,1)" text-anchor="middle">b</text>
<text class="l" transform="translate(723,354.6) scale(0.88,1)" text-anchor="middle">c</text>
<text class="k" transform="translate(673,336.6) scale(0.82,1)" text-anchor="end">4.0</text>
<text class="k" transform="translate(673,348.6) scale(0.82,1)" text-anchor="end">3.2</text>
<text class="k" transform="translate(673,360.8) scale(0.82,1)" text-anchor="end">2.4</text>
<text class="t" transform="translate(682.05,370.1) scale(0.86,1)" text-anchor="middle">T1</text>
<text class="t" transform="translate(695.6,370.1) scale(0.86,1)" text-anchor="middle">T2</text>
<text class="t" transform="translate(709.25,370.1) scale(0.86,1)" text-anchor="middle">T3</text>
<text class="t" transform="translate(723,370.1) scale(0.86,1)" text-anchor="middle">T4</text>
<text class="g" transform="translate(733.9,343.3) rotate(90)" y="2.7" text-anchor="middle">speB</text>
<text class="l" transform="translate(36.6,345.8) scale(0.88,1)" text-anchor="middle">a</text>
<text class="l" transform="translate(49.95,345.8) scale(0.88,1)" text-anchor="middle">a</text>
<text class="l" transform="translate(63.65,357) scale(0.88,1)" text-anchor="middle">b</text>
<text class="l" transform="translate(77.2,358.6) scale(0.88,1)" text-anchor="middle">b</text>
<text class="k" transform="translate(27.4,344) scale(0.82,1)" text-anchor="end">5.8</text>
<text class="k" transform="translate(27.4,358.9) scale(0.82,1)" text-anchor="end">5.6</text>
<text class="k" transform="translate(27.4,373.6) scale(0.82,1)" text-anchor="end">5.4</text>
<text class="t" transform="translate(36.6,385.5) scale(0.86,1)" text-anchor="middle">T1</text>
<text class="t" transform="translate(49.95,385.5) scale(0.86,1)" text-anchor="middle">T2</text>
<text class="t" transform="translate(63.65,385.5) scale(0.86,1)" text-anchor="middle">T3</text>
<text class="t" transform="translate(77.2,385.5) scale(0.86,1)" text-anchor="middle">T4</text>
<text class="l" transform="translate(116.05,362.1) scale(0.88,1)" text-anchor="middle">c</text>
<text class="l" transform="translate(130.05,356.6) scale(0.88,1)" text-anchor="middle">b</text>
<text class="l" transform="translate(143.9,357.5) scale(0.88,1)" text-anchor="middle">b</text>
<text class="l" transform="translate(157.8,337.2) scale(0.88,1)" text-anchor="middle">a</text>
<text class="k" transform="translate(107,342.3) scale(0.82,1)" text-anchor="end">3.6</text>
<text class="k" transform="translate(107,358.6) scale(0.82,1)" text-anchor="end">3.2</text>
<text class="k" transform="translate(107,375.2) scale(0.82,1)" text-anchor="end">2.8</text>
<text class="t" transform="translate(116.05,379.3) scale(0.86,1)" text-anchor="middle">T1</text>
<text class="t" transform="translate(130.05,379.3) scale(0.86,1)" text-anchor="middle">T2</text>
<text class="t" transform="translate(143.9,379.3) scale(0.86,1)" text-anchor="middle">T3</text>
<text class="t" transform="translate(157.8,379.3) scale(0.86,1)" text-anchor="middle">T4</text>
<text class="g" transform="translate(96.7,354.8) rotate(90)" y="2.7" text-anchor="middle">gabD</text>
<text class="l" transform="translate(69.15,427) scale(0.88,1)" text-anchor="middle">c</text>
<text class="l" transform="translate(83.1,416.7) scale(0.88,1)" text-anchor="middle">b</text>
<text class="l" transform="translate(96.8,408.7) scale(0.88,1)" text-anchor="middle">a</text>
<text class="l" transform="translate(110.9,413.3) scale(0.88,1)" text-anchor="middle">ab</text>
<text class="k" transform="translate(60.1,415) scale(0.82,1)" text-anchor="end">5.4</text>
<text class="k" transform="translate(60.1,430.6) scale(0.82,1)" text-anchor="end">5.2</text>
<text class="k" transform="translate(60.1,446.4) scale(0.82,1)" text-anchor="end">5.0</text>
<text class="t" transform="translate(69.15,451) scale(0.86,1)" text-anchor="middle">T1</text>
<text class="t" transform="translate(83.1,451) scale(0.86,1)" text-anchor="middle">T2</text>
<text class="t" transform="translate(96.8,451) scale(0.86,1)" text-anchor="middle">T3</text>
<text class="t" transform="translate(110.9,451) scale(0.86,1)" text-anchor="middle">T4</text>
<text class="l" transform="translate(181,408) scale(0.88,1)" text-anchor="middle">a</text>
<text class="l" transform="translate(194.5,419.2) scale(0.88,1)" text-anchor="middle">b</text>
<text class="l" transform="translate(208,427) scale(0.88,1)" text-anchor="middle">c</text>
<text class="l" transform="translate(221.8,435.3) scale(0.88,1)" text-anchor="middle">d</text>
<text class="k" transform="translate(171.4,407.3) scale(0.82,1)" text-anchor="end">3.2</text>
<text class="k" transform="translate(171.4,422) scale(0.82,1)" text-anchor="end">2.4</text>
<text class="k" transform="translate(171.4,436.6) scale(0.82,1)" text-anchor="end">1.6</text>
<text class="t" transform="translate(181,448.5) scale(0.86,1)" text-anchor="middle">T1</text>
<text class="t" transform="translate(194.5,448.5) scale(0.86,1)" text-anchor="middle">T2</text>
<text class="t" transform="translate(208,448.5) scale(0.86,1)" text-anchor="middle">T3</text>
<text class="t" transform="translate(221.8,448.5) scale(0.86,1)" text-anchor="middle">T4</text>
<text class="g" x="195.5" y="455.1" text-anchor="middle">astB</text>
<text class="l" transform="translate(269,412.5) scale(0.88,1)" text-anchor="middle">b</text>
<text class="l" transform="translate(282.7,408.3) scale(0.88,1)" text-anchor="middle">a</text>
<text class="l" transform="translate(296.4,419.7) scale(0.88,1)" text-anchor="middle">c</text>
<text class="l" transform="translate(310.15,430.8) scale(0.88,1)" text-anchor="middle">d</text>
<text class="k" transform="translate(259.6,418.3) scale(0.82,1)" text-anchor="end">4.8</text>
<text class="k" transform="translate(259.6,432.3) scale(0.82,1)" text-anchor="end">4.5</text>
<text class="k" transform="translate(259.6,446.1) scale(0.82,1)" text-anchor="end">4.2</text>
<text class="t" transform="translate(269,450.1) scale(0.86,1)" text-anchor="middle">T1</text>
<text class="t" transform="translate(282.7,450.1) scale(0.86,1)" text-anchor="middle">T2</text>
<text class="t" transform="translate(296.4,450.1) scale(0.86,1)" text-anchor="middle">T3</text>
<text class="t" transform="translate(310.15,450.1) scale(0.86,1)" text-anchor="middle">T4</text>
<text class="l" transform="translate(348.25,398.2) scale(0.88,1)" text-anchor="middle">a</text>
<text class="l" transform="translate(362.1,405.7) scale(0.88,1)" text-anchor="middle">a</text>
<text class="l" transform="translate(375.45,412.6) scale(0.88,1)" text-anchor="middle">b</text>
<text class="l" transform="translate(389.25,415) scale(0.88,1)" text-anchor="middle">b</text>
<text class="k" transform="translate(339.1,402.6) scale(0.82,1)" text-anchor="end">0.8</text>
<text class="k" transform="translate(339.1,418.1) scale(0.82,1)" text-anchor="end">0.7</text>
<text class="k" transform="translate(339.1,433.5) scale(0.82,1)" text-anchor="end">0.6</text>
<text class="t" transform="translate(348.25,438.1) scale(0.86,1)" text-anchor="middle">T1</text>
<text class="t" transform="translate(362.1,438.1) scale(0.86,1)" text-anchor="middle">T2</text>
<text class="t" transform="translate(375.45,438.1) scale(0.86,1)" text-anchor="middle">T3</text>
<text class="t" transform="translate(389.25,438.1) scale(0.86,1)" text-anchor="middle">T4</text>
<text class="g" transform="translate(329.2,415.8) rotate(90)" y="2.7" text-anchor="middle">rocF</text>
<text class="l" transform="translate(517.65,424.4) scale(0.88,1)" text-anchor="middle">b</text>
<text class="l" transform="translate(531.5,404.5) scale(0.88,1)" text-anchor="middle">a</text>
<text class="l" transform="translate(545.25,407.4) scale(0.88,1)" text-anchor="middle">a</text>
<text class="l" transform="translate(558.85,430.4) scale(0.88,1)" text-anchor="middle">c</text>
<text class="k" transform="translate(508.2,412.5) scale(0.82,1)" text-anchor="end">3.2</text>
<text class="k" transform="translate(508.2,426.9) scale(0.82,1)" text-anchor="end">2.4</text>
<text class="k" transform="translate(508.2,441.6) scale(0.82,1)" text-anchor="end">1.6</text>
<text class="t" transform="translate(517.65,446.1) scale(0.86,1)" text-anchor="middle">T1</text>
<text class="t" transform="translate(531.5,446.1) scale(0.86,1)" text-anchor="middle">T2</text>
<text class="t" transform="translate(545.25,446.1) scale(0.86,1)" text-anchor="middle">T3</text>
<text class="t" transform="translate(558.85,446.1) scale(0.86,1)" text-anchor="middle">T4</text>
<text class="g" x="535.7" y="456.3" text-anchor="middle">argH</text>
<text class="l" transform="translate(608.5,409.8) scale(0.88,1)" text-anchor="middle">a</text>
<text class="l" transform="translate(622,414.1) scale(0.88,1)" text-anchor="middle">a</text>
<text class="l" transform="translate(635.55,425.7) scale(0.88,1)" text-anchor="middle">c</text>
<text class="l" transform="translate(648.95,434.7) scale(0.88,1)" text-anchor="middle">d</text>
<text class="k" transform="translate(599.2,409.7) scale(0.82,1)" text-anchor="end">1.2</text>
<text class="k" transform="translate(599.2,425.1) scale(0.82,1)" text-anchor="end">0.9</text>
<text class="k" transform="translate(599.2,440.6) scale(0.82,1)" text-anchor="end">0.6</text>
<text class="t" transform="translate(608.5,450.3) scale(0.86,1)" text-anchor="middle">T1</text>
<text class="t" transform="translate(622,450.3) scale(0.86,1)" text-anchor="middle">T2</text>
<text class="t" transform="translate(635.55,450.3) scale(0.86,1)" text-anchor="middle">T3</text>
<text class="t" transform="translate(648.95,450.3) scale(0.86,1)" text-anchor="middle">T4</text>
<text class="g" x="624.3" y="459.1" text-anchor="middle">ADC</text>
<text class="l" transform="translate(686.25,434.5) scale(0.88,1)" text-anchor="middle">c</text>
<text class="l" transform="translate(700,425.1) scale(0.88,1)" text-anchor="middle">bc</text>
<text class="l" transform="translate(713.4,419.2) scale(0.88,1)" text-anchor="middle">ab</text>
<text class="l" transform="translate(726.9,411.7) scale(0.88,1)" text-anchor="middle">a</text>
<text class="k" transform="translate(677.2,416.3) scale(0.82,1)" text-anchor="end">4.9</text>
<text class="k" transform="translate(677.2,429.8) scale(0.82,1)" text-anchor="end">4.2</text>
<text class="k" transform="translate(677.2,443.4) scale(0.82,1)" text-anchor="end">3.5</text>
<text class="t" transform="translate(686.25,454) scale(0.86,1)" text-anchor="middle">T1</text>
<text class="t" transform="translate(700,454) scale(0.86,1)" text-anchor="middle">T2</text>
<text class="t" transform="translate(713.4,454) scale(0.86,1)" text-anchor="middle">T3</text>
<text class="t" transform="translate(726.9,454) scale(0.86,1)" text-anchor="middle">T4</text>
<path d="M682.8,57.3 H722 V44.5" fill="none" stroke="#444" stroke-width="1.0" stroke-dasharray="5.3 4.3"/>
<text class="m" x="25.5" y="58.65">t -Ketoglutaric</text>
<text class="m" x="51" y="68.85" text-anchor="middle">acid</text>
<text class="m" x="295" y="59.55">L-Glutamate</text>
<text class="m" x="457.6" y="60.15">L-glutamine</text>
<text class="m" x="609.6" y="60.05">D-Glucosamine-6P-</text>
<text class="m" x="722.5" y="26.95" text-anchor="middle">Aminosugars</text>
<text class="m" x="722.3" y="37.05" text-anchor="middle">metabolism</text>
<text class="m" x="143.9" y="140.95">D-Glutamate</text>
<text class="m" x="285.6" y="139.05">N-Acetyl-glutamate</text>
<text class="m" x="455.8" y="136.45">Carbamoyl-P</text>
<text class="m" x="732.6" y="136.1" style="font-size:8.8px">NH<tspan style="font-size:5.6px" dy="1.4">3</tspan></text>
<text class="m" x="137.3" y="219.25">5-Oxo-D-proline</text>
<text class="m" x="275.6" y="216.55">N-Acetyl-L-glutamate-5P</text>
<text class="m" x="461.8" y="217.65">Citrulline</text>
<text class="m" x="61.7" y="239.95">4-Aminobutanoate</text>
<text class="m" x="58.8" y="318.55">Succinate semialdehyde</text>
<text class="m" x="286.7" y="298.25">N-Acetyl-ornithine</text>
<text class="m" x="546.6" y="287.35">L-Arginosuccinate</text>
<text class="m" x="729" y="298.45">Urea</text>
<text class="m" x="302.7" y="373.55">Ornithine</text>
<text class="m" x="68.3" y="394.05">Succinate</text>
<text class="m" x="42.5" y="459.65">N2-Succinyl-L-ornithine</text>
<text class="m" x="304.6" y="460.05">Arginine</text>
<text class="m" x="721.9" y="463.65">Agmatine</text>
<text class="m" transform="translate(3.8,224.5) rotate(90)" y="2.75" text-anchor="middle">Citrate cycle</text>
<text class="m" x="277.7" y="478.35">Expression level of gene</text>
<text class="m" x="404.7" y="478.45">Concentration of metabolite</text>
</svg>
</body></html>
